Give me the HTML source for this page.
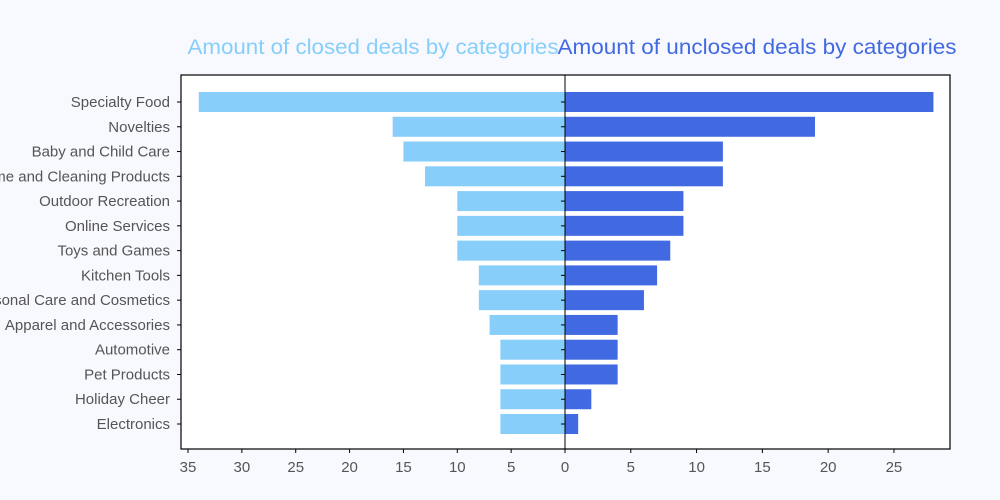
<!DOCTYPE html>
<html><head><meta charset="utf-8"><style>
body{margin:0;background:#f8f9fe}
svg{display:block;font-family:"Liberation Sans",sans-serif}
</style></head><body>
<svg id="c" width="1000" height="500">
<rect width="1000" height="500" fill="#f8f9fe"/>
<rect x="181" y="75" width="769" height="374" fill="#fff"/>
<g id="bars"></g>
<rect x="181" y="75" width="769" height="374" fill="none" stroke="#000" stroke-width="1.2"/>
<line x1="565" y1="75" x2="565" y2="449" stroke="#000" stroke-width="1"/>
<g id="axes"></g>
<text x="373" y="54" text-anchor="middle" font-size="21" fill="#87cefa" textLength="371" lengthAdjust="spacingAndGlyphs">Amount of closed deals by categories</text>
<text x="757" y="54" text-anchor="middle" font-size="21" fill="#4169e1" textLength="399" lengthAdjust="spacingAndGlyphs">Amount of unclosed deals by categories</text>
</svg>
<script>
const categories=["Specialty Food","Novelties","Baby and Child Care","Home and Cleaning Products","Outdoor Recreation","Online Services","Toys and Games","Kitchen Tools","Personal Care and Cosmetics","Apparel and Accessories","Automotive","Pet Products","Holiday Cheer","Electronics"];
const closed=[34,16,15,13,10,10,10,8,8,7,6,6,6,6];
const unclosed=[28,19,12,12,9,9,8,7,6,4,4,4,2,1];
const leftTicks=[35,30,25,20,15,10,5,0];
const rightTicks=[0,5,10,15,20,25];
const NS="http://www.w3.org/2000/svg";
const cx=565, lmax=35.65, rmax=29.26;
const xl=v=>cx-v*(cx-181)/lmax;
const xr=v=>cx+v*(950-cx)/rmax;
const yc=i=>102+i*24.77;
const bars=document.getElementById('bars'), axes=document.getElementById('axes');
function mk(t,a,p){const e=document.createElementNS(NS,t);for(const k in a)e.setAttribute(k,a[k]);p.appendChild(e);return e;}
categories.forEach((c,i)=>{
 const y=yc(i)-10;
 const b1=mk('rect',{x:xl(closed[i]),y:y,width:cx-xl(closed[i]),height:20,fill:'#87cefa'},bars);
 
 
 const b2=mk('rect',{x:cx,y:y,width:xr(unclosed[i])-cx,height:20,fill:'#4169e1'},bars);
 
 
 const t=mk('text',{x:170,y:yc(i)+5,'text-anchor':'end','font-size':15,fill:'#555'},axes);
 t.textContent=c;
 
 
 mk('line',{x1:177,x2:181,y1:yc(i),y2:yc(i),stroke:'#000'},axes);
 mk('line',{x1:561,x2:565,y1:yc(i),y2:yc(i),stroke:'#000'},axes);
});
leftTicks.forEach(v=>{
 mk('line',{x1:xl(v),x2:xl(v),y1:449,y2:453,stroke:'#000'},axes);
 const t=mk('text',{x:xl(v),y:472,'text-anchor':'middle','font-size':15,fill:'#555'},axes);
 t.textContent=v;
 
 
});
rightTicks.forEach(v=>{
 mk('line',{x1:xr(v),x2:xr(v),y1:449,y2:453,stroke:'#000'},axes);
 if(v===0)return;
 const t=mk('text',{x:xr(v),y:472,'text-anchor':'middle','font-size':15,fill:'#555'},axes);
 t.textContent=v;
 
 
});
</script>
</body></html>
